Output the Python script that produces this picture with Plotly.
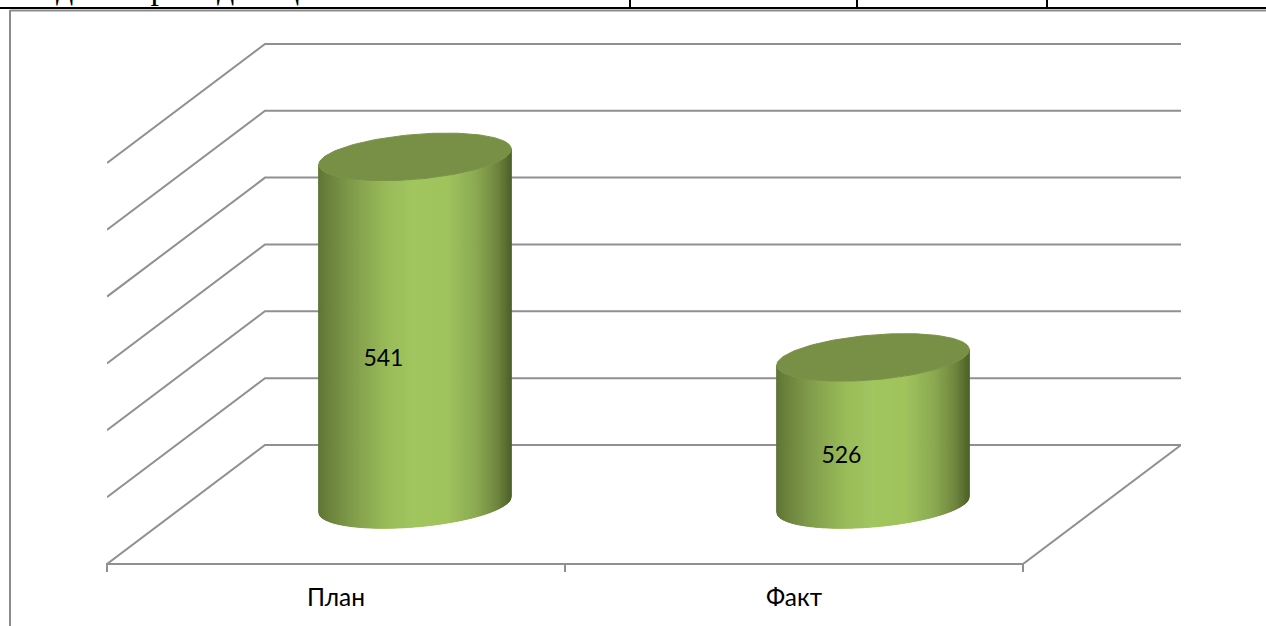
import numpy as np
import plotly.graph_objects as go

categories = ["План", "Факт"]
values = [541, 526]
grid_values = [515, 520, 525, 530, 535, 540, 545]
top_text = "Отдел мерчандизации"

W, H = 1266, 626
PL, PR, PT, PB = 107, 85, 10, 62
CAT_PX = 458
VAL_PX = 13.37
DEPTH_X = 158 / CAT_PX      # category units for full depth
DEPTH_Y = 119 / VAL_PX      # value units for full depth
V0 = grid_values[0]
RX = 91 / CAT_PX            # cylinder radius along categories
RD = 0.2                    # cylinder radius along depth
GRID = "#909090"

stops = [0.0, 0.03, 0.18, 0.36, 0.5, 0.68, 0.82, 0.93, 1.0]
rgb = np.array([[94, 116, 54], [102, 125, 58], [130, 158, 76], [154, 188, 90],
                [162, 198, 96], [160, 195, 94], [140, 170, 82], [112, 134, 64],
                [78, 98, 40]], float)


def proj(u, v, d):
    return u + DEPTH_X * d, v + DEPTH_Y * d


def col(f):
    return "rgb(%d,%d,%d)" % tuple(np.interp(f, stops, rgb[:, i]) for i in range(3))


fig = go.Figure()


def grid_line(points):
    px, py = zip(*points)
    fig.add_trace(go.Scatter(x=px, y=py, mode="lines", line=dict(color=GRID, width=2),
                             cliponaxis=False, hoverinfo="skip", showlegend=False))


# walls and floor
for v in grid_values:
    grid_line([proj(0, v, 0), proj(0, v, 1), proj(2, v, 1)])
grid_line([proj(2, V0, 1), proj(2, V0, 0)])

T0 = np.arctan2(DEPTH_X * RD, RX)


def ring(i, v, t):
    u = i + 0.5 + RX * np.cos(t)
    d = 0.5 + RD * np.sin(t)
    return proj(u, v, d)


for i, val in enumerate(values):
    n = 193
    cx = i + 0.5 + DEPTH_X * 0.5
    half = np.hypot(RX, DEPTH_X * RD)
    xs = np.linspace(cx - half, cx + half, n + 1)
    ang = np.arccos(np.clip((xs - cx) / half, -1, 1))
    ts = -ang + T0
    for k in range(n):
        tt = np.array([ts[k], ts[k + 1], ts[k + 1], ts[k], ts[k]])
        vv = np.array([val, val, V0, V0, val])
        ux, uy = ring(i, vv, tt)
        c = col((k + 0.5) / n)
        fig.add_trace(go.Scatter(x=ux, y=uy, mode="lines", fill="toself", fillcolor=c,
                                 line=dict(color=c, width=1), cliponaxis=False,
                                 hoverinfo="skip", showlegend=False))
    t = np.linspace(0, 2 * np.pi, 181)
    ux, uy = ring(i, val, t)
    fig.add_trace(go.Scatter(x=ux, y=uy, mode="lines", fill="toself", fillcolor="#788f46",
                             line=dict(color="#7b9349", width=1), cliponaxis=False,
                             hoverinfo="skip", showlegend=False))
    lx, ly = proj(i + 0.5, V0 + (val - V0) * 0.485 - 0.05, 0.3)
    fig.add_trace(go.Scatter(x=[lx], y=[ly], mode="text", text=[str(val)],
                             textposition="middle center", cliponaxis=False,
                             textfont=dict(family="Lato", size=23, color="#000000"),
                             hoverinfo="skip", showlegend=False))


def xp(p):
    return (p - PL) / (W - PL - PR)


def yp(p):
    return 1 - (p - PT) / (H - PT - PB)


def seg(x0, y0, x1, y1, color, width):
    return dict(type="line", xref="paper", yref="paper", x0=xp(x0), y0=yp(y0),
                x1=xp(x1), y1=yp(y1), line=dict(color=color, width=width), layer="above")


shapes = [seg(0, 8, W, 8, "#000000", 2),
          seg(630, 0, 630, 8, "#000000", 2),
          seg(857, 0, 857, 8, "#000000", 2),
          seg(1047, 0, 1047, 8, "#000000", 2),
          seg(10, 10.5, W, 10.5, "#8c8c8c", 2),
          seg(10, 10, 10, H, "#8c8c8c", 2),
          seg(PL - 1, H - PB, PL + 2 * CAT_PX + 1, H - PB, GRID, 2)]

fig.update_layout(
    width=W, height=H, autosize=False,
    margin=dict(l=PL, r=PR, t=PT, b=PB),
    paper_bgcolor="#ffffff", plot_bgcolor="rgba(0,0,0,0)",
    showlegend=False,
    shapes=shapes,
    xaxis=dict(range=[0, (W - PL - PR) / CAT_PX], tickvals=[0.5, 1.5], ticktext=categories, ticklen=0,
               showgrid=False, zeroline=False, showline=False,
               tickfont=dict(family="Lato", size=24.5, color="#000000"),
               ticklabelstandoff=16,
               minor=dict(tickvals=[0, 1, 2], ticks="outside", ticklen=7, tickcolor=GRID,
                          tickwidth=2, showgrid=False)),
    yaxis=dict(range=[V0, V0 + (H - PT - PB) / VAL_PX], visible=False),
    annotations=[dict(text=top_text, xref="paper", yref="paper", x=xp(15), y=yp(8),
                      xanchor="left", yanchor="bottom", showarrow=False,
                      font=dict(family="Liberation Serif", size=34, color="#000000"))],
)

fig.write_html("out.html", config=dict(displayModeBar=False),
               post_script="document.body.style.margin='0';document.body.style.overflow='hidden';")
